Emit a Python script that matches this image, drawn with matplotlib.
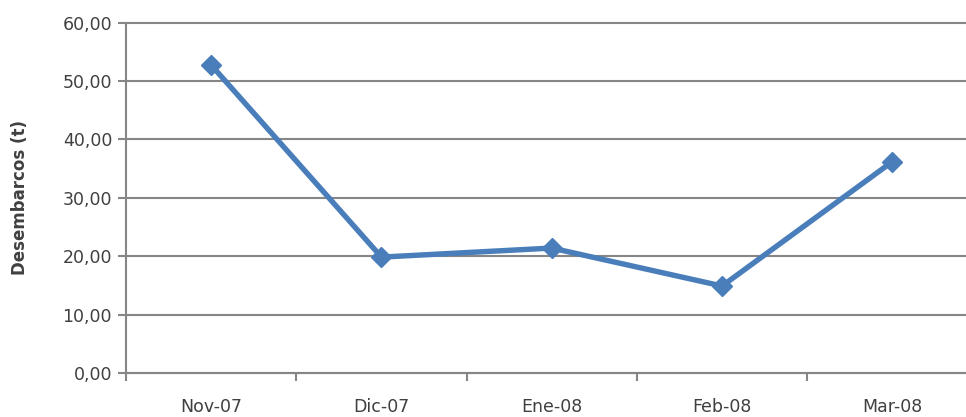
import matplotlib.pyplot as plt
import numpy as np

meses = ['Nov-07', 'Dic-07', 'Ene-08', 'Feb-08', 'Mar-08']
desembarcos = [52.75, 19.85, 21.4, 14.9, 36.2]
y_ticks = [0, 10, 20, 30, 40, 50, 60]

plt.rcParams['font.family'] = ['DejaVu Sans']
gris = '#868686'
texto = '#404040'

fig = plt.figure(figsize=(9.66, 4.17), dpi=100)
# el área de trazado se sale un poco por la derecha, como en el original
ax = fig.add_axes([126 / 966, 1 - 373 / 417, 851.5 / 966, 350.3 / 417])

x = np.arange(len(meses))
ax.plot(x, desembarcos, color='#4A7EBB', linewidth=3.9, marker='D',
        markersize=10, zorder=3, clip_on=False)

ax.set_xlim(-0.5, len(meses) - 0.5)
ax.set_ylim(0, 60)
ax.set_yticks(y_ticks)
ax.set_yticklabels([f'{v:.2f}'.replace('.', ',') for v in y_ticks])
ax.set_xticks(x)
ax.set_xticklabels(meses)
ax.set_xticks(np.arange(-0.5, len(meses)), minor=True)

ax.grid(axis='y', color=gris, linewidth=1.5)
for linea in ax.get_ygridlines():
    linea.set_clip_on(False)  # que la línea de 60 no salga cortada
ax.set_axisbelow(True)
for s in ['top', 'right']:
    ax.spines[s].set_visible(False)
for s in ['left', 'bottom']:
    ax.spines[s].set_color(gris)
    ax.spines[s].set_linewidth(1.5)

ax.tick_params(axis='y', colors=gris, length=6, width=1.5, labelsize=12.5,
               labelcolor=texto, pad=4)
ax.tick_params(axis='x', which='major', length=0, labelsize=12.5,
               labelcolor=texto, pad=18)
ax.tick_params(axis='x', which='minor', colors=gris, length=6, width=1.5)

ax.set_ylabel('Desembarcos (t)', fontsize=12, fontweight='bold',
              color=texto, labelpad=24)

fig.savefig('out.png', dpi=100)
